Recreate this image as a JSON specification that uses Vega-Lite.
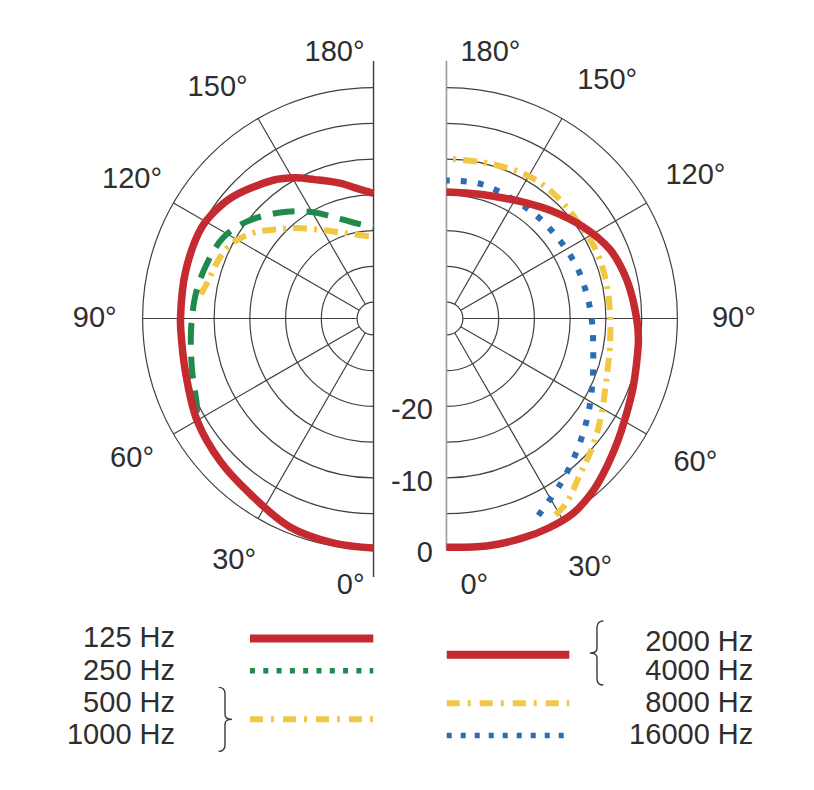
{
  "$schema": "https://vega.github.io/schema/vega-lite/v6.json",
  "autosize": {"type": "pad"},
  "padding": 0,
  "spacing": 0,
  "bounds": "flush",
  "background": "white",
  "config": {"view": {"stroke": null}, "font": "Liberation Sans"},
  "datasets": {
    "rings": [
      {"side": "L", "db": 0}, {"side": "L", "db": -5}, {"side": "L", "db": -10}, {"side": "L", "db": -15}, {"side": "L", "db": -20}, {"side": "L", "db": -25}, {"side": "L", "db": -30},
      {"side": "R", "db": 0}, {"side": "R", "db": -5}, {"side": "R", "db": -10}, {"side": "R", "db": -15}, {"side": "R", "db": -20}, {"side": "R", "db": -25}, {"side": "R", "db": -30}
    ],
    "spokes": [
      {"side": "L", "angle": 30}, {"side": "L", "angle": 60}, {"side": "L", "angle": 90}, {"side": "L", "angle": 120}, {"side": "L", "angle": 150},
      {"side": "R", "angle": 30}, {"side": "R", "angle": 60}, {"side": "R", "angle": 90}, {"side": "R", "angle": 120}, {"side": "R", "angle": 150}
    ],
    "angleLabels": [
      {"side": "L", "angle": 0, "label": "0°"}, {"side": "L", "angle": 30, "label": "30°"}, {"side": "L", "angle": 60, "label": "60°"}, {"side": "L", "angle": 90, "label": "90°"}, {"side": "L", "angle": 120, "label": "120°"}, {"side": "L", "angle": 150, "label": "150°"}, {"side": "L", "angle": 180, "label": "180°"},
      {"side": "R", "angle": 0, "label": "0°"}, {"side": "R", "angle": 30, "label": "30°"}, {"side": "R", "angle": 60, "label": "60°"}, {"side": "R", "angle": 90, "label": "90°"}, {"side": "R", "angle": 120, "label": "120°"}, {"side": "R", "angle": 150, "label": "150°"}, {"side": "R", "angle": 180, "label": "180°"}
    ],
    "radialLabels": [
      {"db": -20, "label": "-20"}, {"db": -10, "label": "-10"}, {"db": 0, "label": "0"}
    ],
    "curves": [
      {"series": "125 Hz", "side": "L", "angle": 0, "db": -0.2},
      {"series": "125 Hz", "side": "L", "angle": 10, "db": -0.4},
      {"series": "125 Hz", "side": "L", "angle": 22, "db": -0.9},
      {"series": "125 Hz", "side": "L", "angle": 35, "db": -2.3},
      {"series": "125 Hz", "side": "L", "angle": 47, "db": -3.0},
      {"series": "125 Hz", "side": "L", "angle": 60, "db": -3.8},
      {"series": "125 Hz", "side": "L", "angle": 75, "db": -5.0},
      {"series": "125 Hz", "side": "L", "angle": 86, "db": -5.3},
      {"series": "125 Hz", "side": "L", "angle": 90, "db": -5.3},
      {"series": "125 Hz", "side": "L", "angle": 104, "db": -5.2},
      {"series": "125 Hz", "side": "L", "angle": 118, "db": -5.1},
      {"series": "125 Hz", "side": "L", "angle": 125, "db": -5.6},
      {"series": "125 Hz", "side": "L", "angle": 131, "db": -6.3},
      {"series": "125 Hz", "side": "L", "angle": 144, "db": -8.4},
      {"series": "125 Hz", "side": "L", "angle": 151, "db": -9.8},
      {"series": "125 Hz", "side": "L", "angle": 157, "db": -11.2},
      {"series": "125 Hz", "side": "L", "angle": 166, "db": -12.8},
      {"series": "125 Hz", "side": "L", "angle": 173, "db": -14.0},
      {"series": "125 Hz", "side": "L", "angle": 180, "db": -14.8},

      {"series": "250 Hz", "side": "L", "angle": 0, "db": -0.2},
      {"series": "250 Hz", "side": "L", "angle": 10, "db": -0.4},
      {"series": "250 Hz", "side": "L", "angle": 22, "db": -0.9},
      {"series": "250 Hz", "side": "L", "angle": 35, "db": -2.3},
      {"series": "250 Hz", "side": "L", "angle": 47, "db": -3.0},
      {"series": "250 Hz", "side": "L", "angle": 60, "db": -3.9},
      {"series": "250 Hz", "side": "L", "angle": 64, "db": -4.8},
      {"series": "250 Hz", "side": "L", "angle": 74, "db": -5.9},
      {"series": "250 Hz", "side": "L", "angle": 84, "db": -6.6},
      {"series": "250 Hz", "side": "L", "angle": 90, "db": -6.9},
      {"series": "250 Hz", "side": "L", "angle": 98, "db": -7.2},
      {"series": "250 Hz", "side": "L", "angle": 107, "db": -7.7},
      {"series": "250 Hz", "side": "L", "angle": 118, "db": -8.4},
      {"series": "250 Hz", "side": "L", "angle": 127, "db": -9.9},
      {"series": "250 Hz", "side": "L", "angle": 138, "db": -12.4},
      {"series": "250 Hz", "side": "L", "angle": 149, "db": -14.9},
      {"series": "250 Hz", "side": "L", "angle": 162, "db": -17.7},
      {"series": "250 Hz", "side": "L", "angle": 171, "db": -18.9},
      {"series": "250 Hz", "side": "L", "angle": 180, "db": -19.5},

      {"series": "500/1000 Hz", "side": "L", "angle": 98, "db": -7.9},
      {"series": "500/1000 Hz", "side": "L", "angle": 103, "db": -8.6},
      {"series": "500/1000 Hz", "side": "L", "angle": 109, "db": -9.0},
      {"series": "500/1000 Hz", "side": "L", "angle": 114, "db": -9.4},
      {"series": "500/1000 Hz", "side": "L", "angle": 119, "db": -10.1},
      {"series": "500/1000 Hz", "side": "L", "angle": 126, "db": -11.8},
      {"series": "500/1000 Hz", "side": "L", "angle": 132, "db": -13.7},
      {"series": "500/1000 Hz", "side": "L", "angle": 140, "db": -15.8},
      {"series": "500/1000 Hz", "side": "L", "angle": 151, "db": -18.2},
      {"series": "500/1000 Hz", "side": "L", "angle": 158, "db": -19.3},
      {"series": "500/1000 Hz", "side": "L", "angle": 168, "db": -20.3},
      {"series": "500/1000 Hz", "side": "L", "angle": 180, "db": -20.9},

      {"series": "2000/4000 Hz", "side": "R", "angle": 0, "db": -0.3},
      {"series": "2000/4000 Hz", "side": "R", "angle": 10, "db": 0.0},
      {"series": "2000/4000 Hz", "side": "R", "angle": 19, "db": 0.2},
      {"series": "2000/4000 Hz", "side": "R", "angle": 26, "db": 0.3},
      {"series": "2000/4000 Hz", "side": "R", "angle": 33, "db": 0.2},
      {"series": "2000/4000 Hz", "side": "R", "angle": 40, "db": -0.6},
      {"series": "2000/4000 Hz", "side": "R", "angle": 45, "db": -1.4},
      {"series": "2000/4000 Hz", "side": "R", "angle": 52, "db": -2.5},
      {"series": "2000/4000 Hz", "side": "R", "angle": 57, "db": -3.2},
      {"series": "2000/4000 Hz", "side": "R", "angle": 64, "db": -4.0},
      {"series": "2000/4000 Hz", "side": "R", "angle": 70, "db": -4.5},
      {"series": "2000/4000 Hz", "side": "R", "angle": 77, "db": -5.0},
      {"series": "2000/4000 Hz", "side": "R", "angle": 84, "db": -5.3},
      {"series": "2000/4000 Hz", "side": "R", "angle": 90, "db": -5.7},
      {"series": "2000/4000 Hz", "side": "R", "angle": 102, "db": -6.5},
      {"series": "2000/4000 Hz", "side": "R", "angle": 113, "db": -7.5},
      {"series": "2000/4000 Hz", "side": "R", "angle": 124, "db": -9.3},
      {"series": "2000/4000 Hz", "side": "R", "angle": 136, "db": -11.3},
      {"series": "2000/4000 Hz", "side": "R", "angle": 145, "db": -12.6},
      {"series": "2000/4000 Hz", "side": "R", "angle": 153, "db": -13.5},
      {"series": "2000/4000 Hz", "side": "R", "angle": 165, "db": -14.3},
      {"series": "2000/4000 Hz", "side": "R", "angle": 180, "db": -14.6},

      {"series": "8000 Hz", "side": "R", "angle": 29, "db": -0.9},
      {"series": "8000 Hz", "side": "R", "angle": 33, "db": -1.5},
      {"series": "8000 Hz", "side": "R", "angle": 41, "db": -3.7},
      {"series": "8000 Hz", "side": "R", "angle": 47, "db": -4.8},
      {"series": "8000 Hz", "side": "R", "angle": 53, "db": -5.9},
      {"series": "8000 Hz", "side": "R", "angle": 60, "db": -7.1},
      {"series": "8000 Hz", "side": "R", "angle": 66, "db": -8.0},
      {"series": "8000 Hz", "side": "R", "angle": 73, "db": -8.7},
      {"series": "8000 Hz", "side": "R", "angle": 80, "db": -9.1},
      {"series": "8000 Hz", "side": "R", "angle": 90, "db": -9.4},
      {"series": "8000 Hz", "side": "R", "angle": 101, "db": -9.4},
      {"series": "8000 Hz", "side": "R", "angle": 112, "db": -9.3},
      {"series": "8000 Hz", "side": "R", "angle": 120, "db": -9.4},
      {"series": "8000 Hz", "side": "R", "angle": 138, "db": -9.3},
      {"series": "8000 Hz", "side": "R", "angle": 150, "db": -9.3},
      {"series": "8000 Hz", "side": "R", "angle": 164, "db": -9.8},
      {"series": "8000 Hz", "side": "R", "angle": 180, "db": -9.9},

      {"series": "16000 Hz", "side": "R", "angle": 25, "db": -1.9},
      {"series": "16000 Hz", "side": "R", "angle": 35, "db": -4.3},
      {"series": "16000 Hz", "side": "R", "angle": 45, "db": -6.4},
      {"series": "16000 Hz", "side": "R", "angle": 56, "db": -8.4},
      {"series": "16000 Hz", "side": "R", "angle": 67, "db": -10.1},
      {"series": "16000 Hz", "side": "R", "angle": 82, "db": -11.6},
      {"series": "16000 Hz", "side": "R", "angle": 90, "db": -12.0},
      {"series": "16000 Hz", "side": "R", "angle": 100, "db": -12.4},
      {"series": "16000 Hz", "side": "R", "angle": 112, "db": -12.7},
      {"series": "16000 Hz", "side": "R", "angle": 127, "db": -13.1},
      {"series": "16000 Hz", "side": "R", "angle": 142, "db": -13.2},
      {"series": "16000 Hz", "side": "R", "angle": 165, "db": -12.9},
      {"series": "16000 Hz", "side": "R", "angle": 180, "db": -13.0}
    ],
    "legendLabels": [
      {"label": "125 Hz", "side": "L", "row": 1},
      {"label": "250 Hz", "side": "L", "row": 2},
      {"label": "500 Hz", "side": "L", "row": 3},
      {"label": "1000 Hz", "side": "L", "row": 4},
      {"label": "2000 Hz", "side": "R", "row": 1.1},
      {"label": "4000 Hz", "side": "R", "row": 2},
      {"label": "8000 Hz", "side": "R", "row": 3},
      {"label": "16000 Hz", "side": "R", "row": 4}
    ],
    "legendSamples": [
      {"series": "125 Hz", "side": "L", "row": 1},
      {"series": "250 Hz", "side": "L", "row": 2},
      {"series": "500/1000 Hz", "side": "L", "row": 3.5},
      {"series": "2000/4000 Hz", "side": "R", "row": 1.5},
      {"series": "8000 Hz", "side": "R", "row": 3},
      {"series": "16000 Hz", "side": "R", "row": 4}
    ],
    "legendBraces": [
      {"side": "L", "row": 3.5},
      {"side": "R", "row": 1.45}
    ]
  },
  "vconcat": [
    {
      "width": 814,
      "height": 600,
      "layer": [
        {
          "data": {"name": "rings"},
          "transform": [
            {"calculate": "datum.db + 32.3", "as": "r"},
            {"calculate": "datum.side == 'L' ? -5.1 : 5.1", "as": "cx"}
          ],
          "encoding": {
            "x": {"field": "cx", "type": "quantitative", "scale": {"domain": [-57.343, 56.503], "nice": false, "zero": false}, "axis": null},
            "y": {"datum": 0, "type": "quantitative", "scale": {"domain": [-39.371, 44.545], "nice": false, "zero": false}, "axis": null},
            "size": {"field": "r", "type": "quantitative", "scale": {"type": "pow", "exponent": 2, "domain": [0, 10], "range": [0, 20449], "zero": true, "nice": false}, "legend": null}
          },
          "layer": [
            {
              "transform": [{"filter": "datum.side == 'L'"}],
              "mark": {"type": "point", "shape": "M0,-1 A1,1 0 0 0 0,1", "filled": false, "stroke": "#404040", "strokeWidth": 1.2, "opacity": 1}
            },
            {
              "transform": [{"filter": "datum.side == 'R'"}],
              "mark": {"type": "point", "shape": "M0,-1 A1,1 0 0 1 0,1", "filled": false, "stroke": "#404040", "strokeWidth": 1.2, "opacity": 1}
            }
          ]
        },
        {
          "data": {"name": "spokes"},
          "transform": [
            {"calculate": "datum.side == 'L' ? -1 : 1", "as": "s"},
            {"calculate": "datum.s * 5.1 + datum.s * 2.3 * sin(datum.angle * PI / 180)", "as": "x1"},
            {"calculate": "-2.3 * cos(datum.angle * PI / 180)", "as": "y1"},
            {"calculate": "datum.s * 5.1 + datum.s * 32.3 * sin(datum.angle * PI / 180)", "as": "x2"},
            {"calculate": "-32.3 * cos(datum.angle * PI / 180)", "as": "y2"}
          ],
          "mark": {"type": "rule", "stroke": "#404040", "strokeWidth": 1.2},
          "encoding": {
            "x": {"field": "x1", "type": "quantitative", "scale": {"domain": [-57.343, 56.503], "nice": false, "zero": false}, "axis": null},
            "y": {"field": "y1", "type": "quantitative", "scale": {"domain": [-39.371, 44.545], "nice": false, "zero": false}, "axis": null},
            "x2": {"field": "x2"},
            "y2": {"field": "y2"}
          }
        },
        {
          "data": {"values": [{}]},
          "mark": {"type": "rule", "stroke": "#3a3a3a", "strokeWidth": 1.4},
          "encoding": {
            "x": {"datum": -5.1, "type": "quantitative", "scale": {"domain": [-57.343, 56.503], "nice": false, "zero": false}, "axis": null},
            "y": {"datum": 36.0, "type": "quantitative", "scale": {"domain": [-39.371, 44.545], "nice": false, "zero": false}, "axis": null},
            "y2": {"datum": -36.15}
          }
        },
        {
          "data": {"values": [{}]},
          "mark": {"type": "rule", "stroke": "#9a9a9a", "strokeWidth": 1.6},
          "encoding": {
            "x": {"datum": 5.1, "type": "quantitative", "scale": {"domain": [-57.343, 56.503], "nice": false, "zero": false}, "axis": null},
            "y": {"datum": 36.05, "type": "quantitative", "scale": {"domain": [-39.371, 44.545], "nice": false, "zero": false}, "axis": null},
            "y2": {"datum": -32.3}
          }
        },
        {
          "data": {"name": "curves"},
          "transform": [
            {"calculate": "datum.db + 32.3", "as": "r"},
            {"calculate": "datum.side == 'L' ? -1 : 1", "as": "s"},
            {"calculate": "datum.s * 5.1 + datum.s * datum.r * sin(datum.angle * PI / 180)", "as": "xu"},
            {"calculate": "-datum.r * cos(datum.angle * PI / 180)", "as": "yu"}
          ],
          "encoding": {
            "x": {"field": "xu", "type": "quantitative", "scale": {"domain": [-57.343, 56.503], "nice": false, "zero": false}, "axis": null},
            "y": {"field": "yu", "type": "quantitative", "scale": {"domain": [-39.371, 44.545], "nice": false, "zero": false}, "axis": null},
            "order": {"field": "angle", "type": "quantitative"}
          },
          "layer": [
            {"transform": [{"filter": "datum.series == '500/1000 Hz'"}], "mark": {"type": "line", "interpolate": "catmull-rom", "stroke": "#f2c744", "strokeWidth": 6, "strokeDash": [14, 7, 3, 7]}},
            {"transform": [{"filter": "datum.series == '250 Hz'"}], "mark": {"type": "line", "interpolate": "catmull-rom", "stroke": "#1f8a4c", "strokeWidth": 6, "strokeDash": [22, 12]}},
            {"transform": [{"filter": "datum.series == '125 Hz'"}], "mark": {"type": "line", "interpolate": "catmull-rom", "stroke": "#c42a2f", "strokeWidth": 7.5}},
            {"transform": [{"filter": "datum.series == '16000 Hz'"}], "mark": {"type": "line", "interpolate": "catmull-rom", "stroke": "#2b6cb3", "strokeWidth": 6, "strokeDash": [6, 11]}},
            {"transform": [{"filter": "datum.series == '8000 Hz'"}], "mark": {"type": "line", "interpolate": "catmull-rom", "stroke": "#f2c744", "strokeWidth": 6, "strokeDash": [14, 7, 3, 7]}},
            {"transform": [{"filter": "datum.series == '2000/4000 Hz'"}], "mark": {"type": "line", "interpolate": "catmull-rom", "stroke": "#c42a2f", "strokeWidth": 7.5}}
          ]
        },
        {
          "data": {"name": "angleLabels"},
          "transform": [
            {"calculate": "datum.side == 'L' ? -1 : 1", "as": "s"}
          ],
          "layer": [
            {
              "transform": [
                {"filter": "datum.angle > 0 && datum.angle < 180"},
                {"calculate": "datum.side == 'L' ? 39.0 : 40.2", "as": "rr"},
                {"calculate": "datum.angle == 150 ? 146 : datum.angle", "as": "pa"},
                {"calculate": "datum.s * 5.1 + datum.s * datum.rr * sin(datum.pa * PI / 180)", "as": "xu"},
                {"calculate": "-datum.rr * cos(datum.pa * PI / 180)", "as": "yu"}
              ],
              "mark": {"type": "text", "align": "center", "baseline": "middle", "fontSize": 29, "font": "Liberation Sans", "fill": "#2e2e2e"},
              "encoding": {
                "x": {"field": "xu", "type": "quantitative", "scale": {"domain": [-57.343, 56.503], "nice": false, "zero": false}, "axis": null},
                "y": {"field": "yu", "type": "quantitative", "scale": {"domain": [-39.371, 44.545], "nice": false, "zero": false}, "axis": null},
                "text": {"field": "label"}
              }
            },
            {
              "transform": [
                {"filter": "(datum.angle == 0 || datum.angle == 180) && datum.side == 'L'"},
                {"calculate": "-5.1", "as": "xu"},
                {"calculate": "-37.3 * cos(datum.angle * PI / 180)", "as": "yu"}
              ],
              "mark": {"type": "text", "align": "right", "baseline": "middle", "dx": -9, "fontSize": 29, "font": "Liberation Sans", "fill": "#2e2e2e"},
              "encoding": {
                "x": {"field": "xu", "type": "quantitative", "scale": {"domain": [-57.343, 56.503], "nice": false, "zero": false}, "axis": null},
                "y": {"field": "yu", "type": "quantitative", "scale": {"domain": [-39.371, 44.545], "nice": false, "zero": false}, "axis": null},
                "text": {"field": "label"}
              }
            },
            {
              "transform": [
                {"filter": "(datum.angle == 0 || datum.angle == 180) && datum.side == 'R'"},
                {"calculate": "5.1", "as": "xu"},
                {"calculate": "-37.3 * cos(datum.angle * PI / 180)", "as": "yu"}
              ],
              "mark": {"type": "text", "align": "left", "baseline": "middle", "dx": 14, "fontSize": 29, "font": "Liberation Sans", "fill": "#2e2e2e"},
              "encoding": {
                "x": {"field": "xu", "type": "quantitative", "scale": {"domain": [-57.343, 56.503], "nice": false, "zero": false}, "axis": null},
                "y": {"field": "yu", "type": "quantitative", "scale": {"domain": [-39.371, 44.545], "nice": false, "zero": false}, "axis": null},
                "text": {"field": "label"}
              }
            }
          ]
        },
        {
          "data": {"name": "radialLabels"},
          "transform": [
            {"calculate": "-(datum.db + 32.3)", "as": "yu"}
          ],
          "mark": {"type": "text", "align": "right", "baseline": "middle", "dx": 23, "dy": 4, "fontSize": 29, "font": "Liberation Sans", "fill": "#2e2e2e"},
          "encoding": {
            "x": {"datum": 0, "type": "quantitative", "scale": {"domain": [-57.343, 56.503], "nice": false, "zero": false}, "axis": null},
            "y": {"field": "yu", "type": "quantitative", "scale": {"domain": [-39.371, 44.545], "nice": false, "zero": false}, "axis": null},
            "text": {"field": "label"}
          }
        }
      ]
    },
    {
      "width": 814,
      "height": 190,
      "layer": [
        {
          "data": {"name": "legendLabels"},
          "transform": [{"filter": "datum.side == 'L'"}],
          "mark": {"type": "text", "align": "right", "baseline": "middle", "fontSize": 29, "font": "Liberation Sans", "fill": "#2e2e2e"},
          "encoding": {
            "x": {"datum": 21.5, "type": "quantitative", "scale": {"domain": [0, 100], "nice": false, "zero": false}, "axis": null},
            "y": {"field": "row", "type": "quantitative", "scale": {"domain": [-0.1907, 5.6856], "reverse": true, "nice": false, "zero": false}, "axis": null},
            "text": {"field": "label"}
          }
        },
        {
          "data": {"name": "legendLabels"},
          "transform": [{"filter": "datum.side == 'R'"}],
          "mark": {"type": "text", "align": "right", "baseline": "middle", "fontSize": 29, "font": "Liberation Sans", "fill": "#2e2e2e"},
          "encoding": {
            "x": {"datum": 92.54, "type": "quantitative", "scale": {"domain": [0, 100], "nice": false, "zero": false}, "axis": null},
            "y": {"field": "row", "type": "quantitative", "scale": {"domain": [-0.1907, 5.6856], "reverse": true, "nice": false, "zero": false}, "axis": null},
            "text": {"field": "label"}
          }
        },
        {
          "data": {"name": "legendSamples"},
          "encoding": {
            "y": {"field": "row", "type": "quantitative", "scale": {"domain": [-0.1907, 5.6856], "reverse": true, "nice": false, "zero": false}, "axis": null}
          },
          "layer": [
            {
              "transform": [{"filter": "datum.series == '125 Hz'"}],
              "mark": {"type": "rule", "stroke": "#c42a2f", "strokeWidth": 8},
              "encoding": {"x": {"datum": 30.71, "type": "quantitative", "scale": {"domain": [0, 100], "nice": false, "zero": false}, "axis": null}, "x2": {"datum": 45.86}}
            },
            {
              "transform": [{"filter": "datum.series == '250 Hz'"}],
              "mark": {"type": "rule", "stroke": "#1f8a4c", "strokeWidth": 5.5, "strokeDash": [5, 8.3]},
              "encoding": {"x": {"datum": 30.71, "type": "quantitative", "scale": {"domain": [0, 100], "nice": false, "zero": false}, "axis": null}, "x2": {"datum": 45.86}}
            },
            {
              "transform": [{"filter": "datum.series == '500/1000 Hz'"}],
              "mark": {"type": "rule", "stroke": "#f2c744", "strokeWidth": 6, "strokeDash": [13, 8, 3, 9]},
              "encoding": {"x": {"datum": 30.71, "type": "quantitative", "scale": {"domain": [0, 100], "nice": false, "zero": false}, "axis": null}, "x2": {"datum": 45.86}}
            },
            {
              "transform": [{"filter": "datum.series == '2000/4000 Hz'"}],
              "mark": {"type": "rule", "stroke": "#c42a2f", "strokeWidth": 8},
              "encoding": {"x": {"datum": 54.88, "type": "quantitative", "scale": {"domain": [0, 100], "nice": false, "zero": false}, "axis": null}, "x2": {"datum": 69.94}}
            },
            {
              "transform": [{"filter": "datum.series == '8000 Hz'"}],
              "mark": {"type": "rule", "stroke": "#f2c744", "strokeWidth": 6, "strokeDash": [13, 8, 3, 9]},
              "encoding": {"x": {"datum": 54.88, "type": "quantitative", "scale": {"domain": [0, 100], "nice": false, "zero": false}, "axis": null}, "x2": {"datum": 69.94}}
            },
            {
              "transform": [{"filter": "datum.series == '16000 Hz'"}],
              "mark": {"type": "rule", "stroke": "#2b6cb3", "strokeWidth": 5.5, "strokeDash": [5, 9]},
              "encoding": {"x": {"datum": 54.88, "type": "quantitative", "scale": {"domain": [0, 100], "nice": false, "zero": false}, "axis": null}, "x2": {"datum": 69.94}}
            }
          ]
        },
        {
          "data": {"name": "legendBraces"},
          "transform": [{"filter": "datum.side == 'L'"}],
          "mark": {"type": "point", "filled": false, "stroke": "#3a3a3a", "strokeWidth": 1.4, "opacity": 1, "size": 4096, "shape": "M-0.2,-1 Q0,-1 0,-0.8 L0,-0.15 Q0,0 0.22,0 Q0,0 0,0.15 L0,0.8 Q0,1 -0.2,1"},
          "encoding": {
            "x": {"datum": 27.64, "type": "quantitative", "scale": {"domain": [0, 100], "nice": false, "zero": false}, "axis": null},
            "y": {"field": "row", "type": "quantitative", "scale": {"domain": [-0.1907, 5.6856], "reverse": true, "nice": false, "zero": false}, "axis": null}
          }
        },
        {
          "data": {"name": "legendBraces"},
          "transform": [{"filter": "datum.side == 'R'"}],
          "mark": {"type": "point", "filled": false, "stroke": "#3a3a3a", "strokeWidth": 1.4, "opacity": 1, "size": 4096, "shape": "M0.2,-1 Q0,-1 0,-0.8 L0,-0.15 Q0,0 -0.22,0 Q0,0 0,0.15 L0,0.8 Q0,1 0.2,1"},
          "encoding": {
            "x": {"datum": 73.34, "type": "quantitative", "scale": {"domain": [0, 100], "nice": false, "zero": false}, "axis": null},
            "y": {"field": "row", "type": "quantitative", "scale": {"domain": [-0.1907, 5.6856], "reverse": true, "nice": false, "zero": false}, "axis": null}
          }
        }
      ]
    }
  ]
}
